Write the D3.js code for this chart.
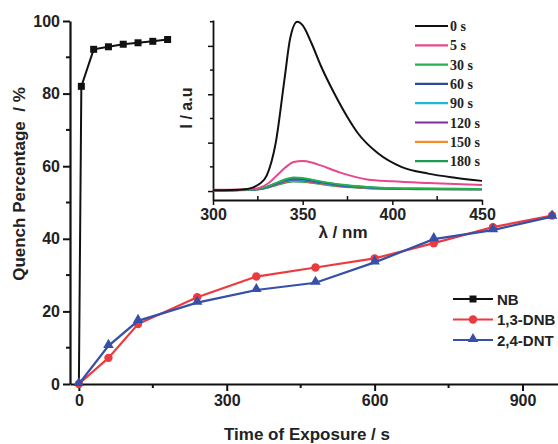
<!DOCTYPE html>
<html>
<head>
<meta charset="utf-8">
<script src="https://cdn.jsdelivr.net/npm/d3@7"></script>
<style>
  html, body { margin: 0; padding: 0; background: #fff; }
  svg text { font-family: "Liberation Sans", Arial, sans-serif; font-weight: bold; fill: #222; }
  .serif text, text.serif { font-family: "Liberation Serif", "Times New Roman", serif; }
</style>
</head>
<body>
<svg id="chart" width="558" height="444"></svg>
<script>
// ---- Main chart data ----
const nbTime   = [0, 5, 30, 60, 90, 120, 150, 180];
const nbValues = [0, 82, 92.2, 92.9, 93.6, 94.0, 94.4, 94.9];

const dnTime    = [0, 60, 120, 240, 360, 480, 600, 720, 840, 960];
const dnbValues = [0, 7.2, 16.5, 23.9, 29.6, 32.1, 34.6, 38.8, 43.2, 46.4];
const dntValues = [0, 10.5, 17.4, 22.4, 25.9, 27.9, 33.5, 39.9, 42.4, 46.1];

const xTicks = [0, 300, 600, 900];
const xMinor = [150, 450, 750];
const yTicks = [0, 20, 40, 60, 80, 100];
const yMinor = [10, 30, 50, 70, 90];

// ---- Inset spectra data ----
const insetLabels = ['0 s', '5 s', '30 s', '60 s', '90 s', '120 s', '150 s', '180 s'];
const insetColors = ['#111111', '#e8478e', '#27b04f', '#2b47a0', '#1cb8d6', '#7d2e9e', '#f58c2a', '#1e9a55'];

const lam0 = [300, 310, 318, 322, 326, 330, 335, 340, 343, 347, 350, 355, 360, 367.6, 375, 380.7, 392, 405, 420, 435, 450];
const int0 = [0.03, 0.04, 0.07, 0.14, 0.3, 0.65, 2.0, 4.7, 6.3, 7.0, 6.85, 6.1, 5.2, 4.04, 3.05, 2.4, 1.56, 1.0, 0.72, 0.55, 0.42];

const lamS = [300, 310, 320, 326, 330, 335, 340, 345, 350, 355, 360, 371, 386, 400, 420, 450];
const int5   = [0.05, 0.05, 0.07, 0.14, 0.28, 0.6, 0.95, 1.2, 1.24, 1.18, 1.06, 0.76, 0.48, 0.4, 0.33, 0.25];
const int30  = [0.03, 0.03, 0.05, 0.1, 0.18, 0.33, 0.48, 0.56, 0.54, 0.47, 0.4, 0.27, 0.17, 0.12, 0.1, 0.08];
const int60  = [0.03, 0.03, 0.05, 0.09, 0.17, 0.31, 0.45, 0.52, 0.5, 0.44, 0.37, 0.25, 0.16, 0.11, 0.09, 0.08];
const int90  = [0.03, 0.03, 0.05, 0.09, 0.16, 0.3, 0.43, 0.49, 0.47, 0.42, 0.35, 0.24, 0.15, 0.11, 0.09, 0.07];
const int120 = [0.03, 0.03, 0.05, 0.08, 0.15, 0.28, 0.4, 0.46, 0.44, 0.39, 0.33, 0.22, 0.14, 0.1, 0.08, 0.07];
const int150 = [0.03, 0.03, 0.05, 0.08, 0.14, 0.27, 0.38, 0.43, 0.42, 0.37, 0.31, 0.21, 0.13, 0.1, 0.08, 0.07];
const int180 = [0.02, 0.02, 0.04, 0.07, 0.13, 0.24, 0.34, 0.39, 0.38, 0.34, 0.29, 0.19, 0.12, 0.09, 0.07, 0.06];

const insetSeries = [
  {lam: lam0, val: int0},
  {lam: lamS, val: int5},
  {lam: lamS, val: int30},
  {lam: lamS, val: int60},
  {lam: lamS, val: int90},
  {lam: lamS, val: int120},
  {lam: lamS, val: int150},
  {lam: lamS, val: int180}
];
const insetXTicks = [300, 350, 400, 450];
const insetXMinor = [325, 375, 425];
const insetYMajor = [0, 2, 4, 6];
const insetYMinor = [1, 3, 5, 7];

// ---- Setup ----
const svg = d3.select('#chart');
const red = '#ec3a3f', blue = '#3550a8';

const x = d3.scaleLinear().domain([-18, 972]).range([70, 558]);
const y = d3.scaleLinear().domain([0, 100]).range([384, 21]);

// axes
const xAxis = svg.append('g').attr('transform', `translate(0,${y(0)})`)
  .call(d3.axisBottom(x).tickValues(xTicks).tickSize(7).tickPadding(4).tickSizeOuter(0));
xAxis.append('g').selectAll('line').data(xMinor).join('line')
  .attr('x1', d => x(d)).attr('x2', d => x(d)).attr('y1', 0).attr('y2', 4);

const yAxis = svg.append('g').attr('transform', `translate(${x(-18)},0)`)
  .call(d3.axisLeft(y).tickValues(yTicks).tickSize(7).tickPadding(3).tickSizeOuter(0));
yAxis.append('g').selectAll('line').data(yMinor).join('line')
  .attr('y1', d => y(d)).attr('y2', d => y(d)).attr('x1', 0).attr('x2', -4);

[xAxis, yAxis].forEach(a => {
  a.selectAll('path.domain').attr('stroke', '#111').attr('stroke-width', 2.2);
  a.selectAll('line').attr('stroke', '#111').attr('stroke-width', 2);
  a.selectAll('text').style('font-size', '16px').attr('fill', '#222');
});

svg.append('text').attr('x', 307).attr('y', 440).attr('text-anchor', 'middle')
  .style('font-size', '17px').text('Time of Exposure / s');
svg.append('text').attr('transform', 'translate(25,184) rotate(-90)').attr('text-anchor', 'middle')
  .style('font-size', '17px').text('Quench Percentage\u00a0 / %');

// ---- Series ----
const line = d3.line().x(d => x(d[0])).y(d => y(d[1]));
const nb = nbTime.map((t, i) => [t, nbValues[i]]);
const dnb = dnTime.map((t, i) => [t, dnbValues[i]]);
const dnt = dnTime.map((t, i) => [t, dntValues[i]]);

svg.append('path').datum(nb).attr('d', line).attr('fill', 'none').attr('stroke', '#111').attr('stroke-width', 2);
svg.append('g').selectAll('rect').data(nb.slice(1)).join('rect')
  .attr('x', d => x(d[0]) - 3.5).attr('y', d => y(d[1]) - 3.5).attr('width', 7).attr('height', 7).attr('fill', '#111');

svg.append('path').datum(dnb).attr('d', line).attr('fill', 'none').attr('stroke', red).attr('stroke-width', 2.2);
svg.append('g').selectAll('circle').data(dnb).join('circle')
  .attr('cx', d => x(d[0])).attr('cy', d => y(d[1])).attr('r', 4.2).attr('fill', red);

const tri = d3.symbol().type(d3.symbolTriangle).size(48);
svg.append('path').datum(dnt).attr('d', line).attr('fill', 'none').attr('stroke', blue).attr('stroke-width', 2.2);
svg.append('g').selectAll('path').data(dnt).join('path')
  .attr('d', tri).attr('transform', d => `translate(${x(d[0])},${y(d[1]) - 1})`).attr('fill', blue);

// ---- Main legend ----
const legend = [
  {name: 'NB', color: '#111', mark: 'square'},
  {name: '1,3-DNB', color: red, mark: 'circle'},
  {name: '2,4-DNT', color: blue, mark: 'triangle'}
];
const lg = svg.append('g').selectAll('g').data(legend).join('g')
  .attr('transform', (d, i) => `translate(453,${299 + i * 20.5})`);
lg.append('line').attr('x1', 0).attr('x2', 40).attr('stroke', d => d.color).attr('stroke-width', 2.2);
lg.each(function(d) {
  const g = d3.select(this);
  if (d.mark === 'square') g.append('rect').attr('x', 16.5).attr('y', -3.5).attr('width', 7).attr('height', 7).attr('fill', d.color);
  else if (d.mark === 'circle') g.append('circle').attr('cx', 20).attr('r', 4.2).attr('fill', d.color);
  else g.append('path').attr('d', tri).attr('transform', 'translate(20,-1)').attr('fill', d.color);
});
lg.append('text').attr('x', 44).attr('y', 5.5).style('font-size', '15px').text(d => d.name);

// ---- Inset ----
const ix = d3.scaleLinear().domain([300, 450]).range([213, 482]);
const iy = d3.scaleLinear().domain([-0.37, 7.07]).range([200, 20]);
const inset = svg.append('g');

const ixAxis = inset.append('g').attr('transform', 'translate(0,200)')
  .call(d3.axisBottom(ix).tickValues(insetXTicks).tickSize(5).tickPadding(4).tickSizeOuter(0));
ixAxis.append('g').selectAll('line').data(insetXMinor).join('line')
  .attr('x1', d => ix(d)).attr('x2', d => ix(d)).attr('y1', 0).attr('y2', -4);
const iyAxis = inset.append('g').attr('transform', 'translate(213,0)')
  .call(d3.axisLeft(iy).tickValues(insetYMajor).tickSize(5).tickFormat('').tickSizeOuter(0));
iyAxis.append('g').selectAll('line').data(insetYMinor).join('line')
  .attr('y1', d => iy(d)).attr('y2', d => iy(d)).attr('x1', 0).attr('x2', -3);
[ixAxis, iyAxis].forEach(a => {
  a.selectAll('path.domain').attr('stroke', '#111').attr('stroke-width', 1.8);
  a.selectAll('line').attr('stroke', '#111').attr('stroke-width', 1.5);
  a.selectAll('text').style('font-size', '16px').attr('fill', '#222');
});

inset.append('text').attr('x', 343).attr('y', 238).attr('text-anchor', 'middle')
  .style('font-size', '17px').text('λ / nm');
inset.append('text').attr('transform', 'translate(192,108) rotate(-90)').attr('text-anchor', 'middle')
  .style('font-size', '16px').text('I / a.u');

const iline = d3.line().curve(d3.curveMonotoneX);
insetSeries.slice().reverse().forEach((s, k) => {
  const i = insetSeries.length - 1 - k;
  const pts = s.lam.map((l, j) => [ix(l), iy(s.val[j])]);
  inset.append('path').attr('d', iline(pts)).attr('fill', 'none')
    .attr('stroke', insetColors[i]).attr('stroke-width', 2);
});

const ilg = inset.append('g').selectAll('g').data(insetLabels).join('g')
  .attr('transform', (d, i) => `translate(415,${26 + i * 19.3})`);
ilg.append('line').attr('x1', 0).attr('x2', 33).attr('stroke', (d, i) => insetColors[i]).attr('stroke-width', 2.2);
ilg.append('text').attr('class', 'serif').attr('x', 35).attr('y', 5)
  .style('font-family', '"Liberation Serif", "Times New Roman", serif').style('font-size', '14px').text(d => d);
</script>
</body>
</html>
